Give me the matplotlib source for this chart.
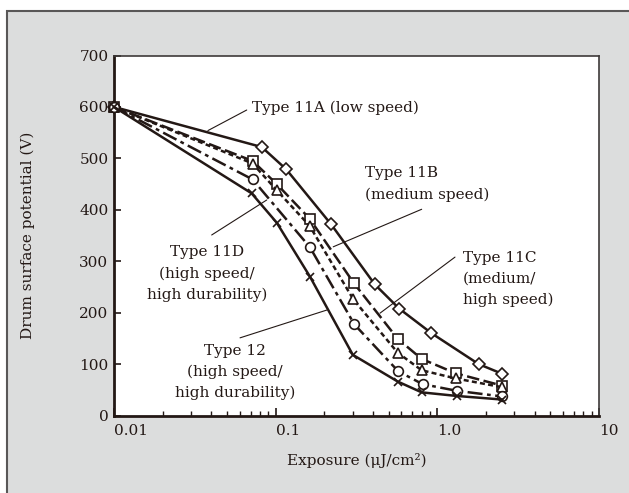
import matplotlib.pyplot as plt
from matplotlib.patches import Rectangle
from matplotlib.ticker import LogLocator, NullFormatter

# exposure (uJ/cm2) and drum surface potential (V) for each drum type
x_11a = [0.01, 0.082, 0.116, 0.22, 0.41, 0.58, 0.92, 1.8, 2.52]
y_11a = [600, 522, 479, 372, 255, 208, 160, 100, 81]

x_11b = [0.01, 0.072, 0.1015, 0.162, 0.305, 0.569, 0.80, 1.30, 2.52]
y_11b = [600, 495, 450, 383, 257, 149, 110, 82, 58]

x_11c = [0.01, 0.072, 0.1015, 0.162, 0.302, 0.569, 0.80, 1.30, 2.52]
y_11c = [600, 490, 438, 369, 226, 122, 88, 72, 55]

x_11d = [0.01, 0.072, 0.163, 0.307, 0.573, 0.81, 1.32, 2.52]
y_11d = [600, 459, 327, 177, 86, 61, 48, 37]

x_12 = [0.01, 0.071, 0.1015, 0.163, 0.300, 0.569, 0.80, 1.32, 2.52]
y_12 = [600, 432, 375, 270, 118, 66, 45, 38, 31]

xticks = [0.01, 0.1, 1, 10]
xtick_labels = ['0.01', '0.1', '1.0', '10']
yticks = [0, 100, 200, 300, 400, 500, 600, 700]

ink = '#231815'
plt.rcParams['font.family'] = ['DejaVu Serif']
plt.rcParams['font.size'] = 11

fig = plt.figure(figsize=(6.29, 4.93), dpi=100)
fig.patch.set_facecolor('white')
# gray panel with frame on top/left
fig.patches.append(Rectangle((7 / 629, -0.1), 1.2, 1 - 11 / 493 + 0.1,
                             transform=fig.transFigure, facecolor='#dcdddd',
                             edgecolor='#595757', lw=1.5, zorder=-10))

ax = fig.add_axes([114 / 629, 77.5 / 493, 485 / 629, 360 / 493])
ax.set_facecolor('white')

lw = 1.8
ax.plot(x_11a, y_11a, color=ink, lw=lw, ls='-', marker='D', ms=6.5,
        mfc='white', mec=ink, mew=1.2, clip_on=False, zorder=3)
ax.plot(x_11b, y_11b, color=ink, lw=lw, ls=(0, (5, 1.8)), marker='s', ms=7.5,
        mfc='white', mec=ink, mew=1.2, clip_on=False, zorder=3)
ax.plot(x_11c, y_11c, color=ink, lw=lw, ls=(0, (2.0, 1.3)), marker='^', ms=7.5,
        mfc='white', mec=ink, mew=1.2, clip_on=False, zorder=3)
ax.plot(x_11d, y_11d, color=ink, lw=lw, ls=(0, (6, 1.8, 1.5, 1.8)), marker='o', ms=7,
        mfc='white', mec=ink, mew=1.2, clip_on=False, zorder=3)
ax.plot(x_12, y_12, color=ink, lw=lw, ls='-', marker='x', ms=6,
        mec=ink, mew=1.2, clip_on=False, zorder=3)

ax.set_xscale('log')
ax.set_xlim(0.01, 10)
ax.set_ylim(0, 700)
ax.set_xticks(xticks)
ax.set_xticklabels(xtick_labels)
ax.xaxis.set_minor_locator(LogLocator(base=10, subs=range(2, 10)))
ax.xaxis.set_minor_formatter(NullFormatter())
ax.set_yticks(yticks)
for lbl in ax.get_xticklabels():
    lbl.set_ha('left')

ax.tick_params(axis='x', which='major', direction='in', length=6, width=1.2,
               pad=6, colors=ink)
ax.tick_params(axis='x', which='minor', direction='in', length=3.5, width=1.0,
               colors=ink)
ax.tick_params(axis='y', direction='in', length=5, width=1.2, pad=4, colors=ink)
for s in ['left', 'bottom']:
    ax.spines[s].set_linewidth(2)
    ax.spines[s].set_color(ink)
for s in ['top', 'right']:
    ax.spines[s].set_linewidth(1.2)
    ax.spines[s].set_color('#3e3a39')

ax.set_xlabel('Exposure (\u03bcJ/cm\u00b2)', color=ink)
ax.xaxis.set_label_coords(0.5, -0.105)
fig.text(28 / 629, 1 - 235.5 / 493, 'Drum surface potential (V)', rotation=90,
         ha='center', va='center', color=ink, fontsize=11)

# annotations
lead = dict(arrowstyle='-', lw=0.8, color=ink, shrinkA=0, shrinkB=0)
sp = 1.6
ax.annotate('', xy=(0.0381, 554), xytext=(0.0662, 594), arrowprops=lead)
ax.text(0.0714, 598, 'Type 11A (low speed)', ha='left', va='center', color=ink)

ax.annotate('', xy=(0.227, 328), xytext=(0.80, 401), arrowprops=lead)
ax.text(0.357, 450, 'Type 11B\n(medium speed)', ha='left', va='center',
        linespacing=sp, color=ink)

ax.annotate('', xy=(0.442, 199), xytext=(1.286, 308), arrowprops=lead)
ax.text(1.441, 265, 'Type 11C\n(medium/\nhigh speed)', ha='left', va='center',
        linespacing=sp, color=ink)

ax.annotate('', xy=(0.088, 419), xytext=(0.0402, 351), arrowprops=lead)
ax.text(0.0376, 276, 'Type 11D\n(high speed/\nhigh durability)', ha='center',
        va='center', multialignment='center', linespacing=sp, color=ink)

ax.annotate('', xy=(0.207, 205), xytext=(0.0602, 151), arrowprops=lead)
ax.text(0.056, 84.6, 'Type 12\n(high speed/\nhigh durability)', ha='center',
        va='center', multialignment='center', linespacing=sp, color=ink)

fig.savefig('out.png', dpi=100, facecolor=fig.get_facecolor())
